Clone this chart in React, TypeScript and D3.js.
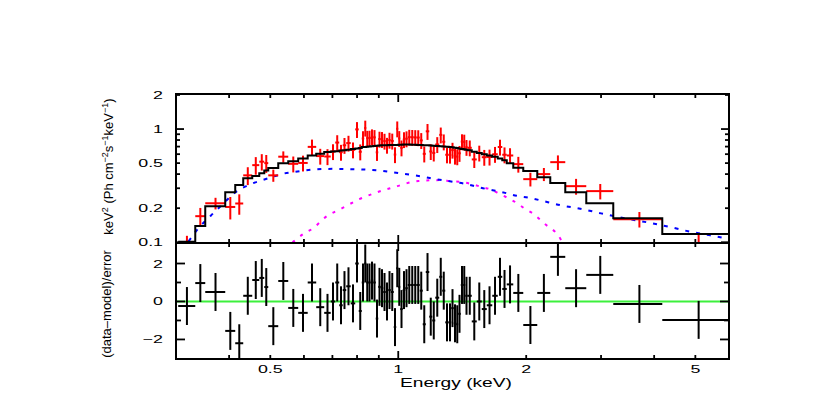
import React from "react";
import * as d3 from "d3";

// Bin edges (keV)
const E_EDGES = [
  0.3036, 0.333, 0.3515, 0.3917, 0.4135, 0.4318, 0.4534, 0.471, 0.4839, 0.4945,
  0.522, 0.551, 0.5816, 0.6123, 0.6412, 0.6696, 0.6936, 0.7107, 0.7263, 0.7402,
  0.7544, 0.773, 0.7921, 0.8073, 0.8206, 0.8318, 0.8409, 0.85, 0.8616, 0.8733,
  0.8852, 0.8973, 0.9095, 0.922, 0.9345, 0.9473, 0.9602, 0.9759, 0.9892, 1.0,
  1.0109, 1.0247, 1.0387, 1.0528, 1.0701, 1.0876, 1.1054, 1.1235, 1.1419, 1.1607,
  1.1829, 1.2023, 1.222, 1.2487, 1.2692, 1.29, 1.3147, 1.3326, 1.3508, 1.3692,
  1.3841, 1.403, 1.4221, 1.4376, 1.4572, 1.4892, 1.5301, 1.5721, 1.6152, 1.6641,
  1.7144, 1.7567, 1.8, 1.8646, 1.9684, 2.1236, 2.2785, 2.4714, 2.7692, 3.2054,
  4.1801, 6.0,
];

// Unfolded data (keV^2 Ph cm^-2 s^-1 keV^-1)
const FLUX = [
  0.097, 0.170, 0.221, 0.205, 0.220, 0.390, 0.480, 0.515, 0.500, 0.390, 0.570,
  0.493, 0.502, 0.696, 0.577, 0.572, 0.633, 0.760, 0.625, 0.719, 0.752, 0.656,
  0.993, 0.630, 0.825, 1.022, 0.831, 0.833, 0.856, 0.844,
  0.623, 0.816, 0.811, 0.783, 0.721, 0.799, 0.785, 0.595, 1.006, 0.827,
  0.683, 0.808, 0.822, 0.848, 0.846, 0.843, 0.841, 0.794, 0.604, 0.955,
  0.634, 0.615, 0.731, 0.889, 0.772, 0.593, 0.589, 0.652, 0.577, 0.570,
  0.611, 0.775, 0.769, 0.690, 0.683, 0.539, 0.615, 0.564, 0.567, 0.599,
  0.694, 0.593, 0.584, 0.490, 0.361, 0.400, 0.510, 0.313, 0.283, 0.160, 0.097,
];

const FLUX_ERR = [
  0.017, 0.031, 0.026, 0.046, 0.045, 0.070, 0.085, 0.085, 0.090, 0.048, 0.065,
  0.079, 0.080, 0.111, 0.092, 0.092, 0.101, 0.122, 0.100, 0.115, 0.120, 0.105,
  0.159, 0.101, 0.132, 0.164, 0.133, 0.133, 0.137, 0.135,
  0.100, 0.131, 0.130, 0.125, 0.115, 0.128, 0.126, 0.095, 0.161, 0.132,
  0.109, 0.129, 0.132, 0.136, 0.135, 0.135, 0.135, 0.127, 0.097, 0.153,
  0.101, 0.098, 0.117, 0.142, 0.124, 0.095, 0.094, 0.104, 0.092, 0.091,
  0.098, 0.124, 0.123, 0.110, 0.109, 0.086, 0.098, 0.090, 0.091, 0.096,
  0.111, 0.095, 0.093, 0.078, 0.050, 0.053, 0.075, 0.050, 0.044, 0.025, 0.022,
];

const MODEL = [
  0.101, 0.139, 0.208, 0.277, 0.320, 0.368, 0.384, 0.408, 0.430, 0.452, 0.500,
  0.520, 0.550, 0.585, 0.605, 0.627, 0.633, 0.638, 0.645, 0.650, 0.656, 0.667,
  0.675, 0.680, 0.693, 0.695, 0.698, 0.700, 0.705, 0.709,
  0.713, 0.716, 0.720, 0.720, 0.721, 0.722, 0.722, 0.723, 0.724, 0.725,
  0.727, 0.730, 0.730, 0.730, 0.728, 0.726, 0.724, 0.722, 0.720, 0.718,
  0.715, 0.713, 0.708, 0.704, 0.702, 0.697, 0.693, 0.689, 0.683, 0.679,
  0.675, 0.667, 0.662, 0.657, 0.650, 0.630, 0.615, 0.600, 0.585, 0.570,
  0.550, 0.530, 0.500, 0.455, 0.425, 0.376, 0.333, 0.277, 0.221, 0.163, 0.118,
];

const RESID = [
  -0.24, 0.97, 0.5, -1.55, -2.2, 0.3, 1.13, 1.24, 0.76, -1.3, 1.08,
  -0.34, -0.6, 1.0, -0.3, -0.6, 0.0, 1.0, -0.2, 0.6, 0.8, -0.1,
  2.0, -0.5, 1.0, 2.0, 1.0, 1.0, 1.1, 1.0,
  -0.9, 0.77, 0.7, 0.5, 0.0, 0.6, 0.5, -1.35, 1.75, 0.77,
  -0.4, 0.6, 0.7, 0.87, 0.87, 0.87, 0.87, 0.57, -1.2, 1.55,
  -0.8, -1.0, 0.2, 1.3, 0.57, -1.1, -1.1, -0.35, -1.15, -1.2,
  -0.65, 0.87, 0.87, 0.3, 0.3, -1.05, 0.0, -0.4, -0.2, 0.3,
  1.3, 0.66, 0.9, 0.45, -1.24, 0.45, 2.35, 0.7, 1.4, -0.13, -0.97,
];

// Model component 1 (blue dashed)
const BLUE_E = [
  0.31, 0.32, 0.337, 0.355, 0.367, 0.39, 0.413, 0.436, 0.458, 0.486,
  0.514, 0.539, 0.573, 0.64, 0.70, 0.76, 0.82, 0.9, 0.97, 1.08,
  1.15, 1.22, 1.36, 1.45, 1.53, 1.62, 1.71, 1.8, 1.9, 2.02,
  2.25, 2.4, 2.68, 3.0, 3.33, 3.96, 4.37, 4.86, 5.42, 6.0,
];
const BLUE_V = [
  0.085, 0.1, 0.13, 0.16, 0.18, 0.225, 0.275, 0.31, 0.335, 0.36,
  0.385, 0.405, 0.42, 0.44, 0.445, 0.443, 0.44, 0.43, 0.415, 0.392,
  0.378, 0.362, 0.34, 0.326, 0.31, 0.294, 0.283, 0.271, 0.257, 0.248,
  0.226, 0.213, 0.198, 0.18, 0.166, 0.147, 0.136, 0.124, 0.115, 0.107,
];

// Model component 2 (magenta dotted)
const MAG_E = [
  0.54, 0.557, 0.601, 0.631, 0.673, 0.738, 0.81, 0.893, 0.995, 1.05,
  1.115, 1.256, 1.326, 1.415, 1.49, 1.576, 1.646, 1.738, 1.815, 1.905,
  1.977, 2.067, 2.218, 2.379, 2.444, 2.5,
];
const MAG_V = [
  0.088, 0.096, 0.12, 0.133, 0.166, 0.2, 0.24, 0.277, 0.313, 0.333,
  0.347, 0.354, 0.347, 0.34, 0.326, 0.307, 0.294, 0.266, 0.245, 0.221,
  0.2, 0.181, 0.144, 0.115, 0.098, 0.088,
];

const X_LABELS = [0.5, 1, 2, 5];
const X_MAJOR = [1];
const X_MINOR = [0.3, 0.4, 0.5, 0.6, 0.7, 0.8, 0.9, 2, 3, 4, 5, 6];
const Y_TOP_LABELS = [0.1, 0.2, 0.5, 1, 2];
const Y_TOP_MAJOR = [0.1, 1];
const Y_TOP_MINOR = [0.2, 0.3, 0.4, 0.5, 0.6, 0.7, 0.8, 0.9, 2];
const Y_RES_LABELS = [-2, 0, 2];
const Y_RES_MINOR = [-1, 1];

const X0 = 176, X1 = 729;
const TOP_Y0 = 94, TOP_Y1 = 243;
const BOT_Y0 = 243, BOT_Y1 = 359;
const FONT = "'Liberation Sans', Arial, Helvetica, sans-serif";
const SX = 1.55;

export default function App() {
  const x = d3.scaleLog().domain([0.3, 6]).range([X0, X1]);
  const yTop = d3.scaleLog().domain([0.0985, 2.04]).range([TOP_Y1, TOP_Y0]);
  const yRes = d3.scaleLinear().domain([-3.03, 3.08]).range([BOT_Y1, BOT_Y0]);

  const bins = FLUX.map((f, i) => ({
    lo: E_EDGES[i],
    hi: E_EDGES[i + 1],
    c: (E_EDGES[i] + E_EDGES[i + 1]) / 2,
    f,
    e: FLUX_ERR[i],
    m: MODEL[i],
    r: RESID[i],
  }));

  const stepPts: [number, number][] = bins.flatMap((b) => [
    [b.lo, b.m] as [number, number],
    [b.hi, b.m] as [number, number],
  ]);
  const stepLine = d3
    .line<[number, number]>()
    .x((d) => x(d[0]))
    .y((d) => yTop(d[1]));
  const smooth = d3
    .line<[number, number]>()
    .x((d) => x(d[0]))
    .y((d) => yTop(d[1]))
    .curve(d3.curveMonotoneX);
  const bluePts = BLUE_E.map((e, i) => [e, BLUE_V[i]] as [number, number]);
  const magPts = MAG_E.map((e, i) => [e, MAG_V[i]] as [number, number]);

  const fmt = (v: number) => (v < 0 ? "\u2212" + Math.abs(v) : String(v));

  const ticks: JSX.Element[] = [];
  const tick = (x1: number, y1: number, x2: number, y2: number, k: string) =>
    ticks.push(<line key={k} x1={x1} y1={y1} x2={x2} y2={y2} stroke="#000" strokeWidth={1.8} />);

  [[TOP_Y0, 1], [TOP_Y1, -1], [BOT_Y0, 1], [BOT_Y1, -1]].forEach(([yy, dir], j) => {
    X_MAJOR.forEach((v) => tick(x(v), yy, x(v), yy + dir * 8, `xM${j}-${v}`));
    X_MINOR.forEach((v) => tick(x(v), yy, x(v), yy + dir * 4, `xm${j}-${v}`));
  });
  [[X0, 1], [X1, -1]].forEach(([xx, dir], j) => {
    Y_TOP_MAJOR.forEach((v) => tick(xx, yTop(v), xx + dir * 8, yTop(v), `yM${j}-${v}`));
    Y_TOP_MINOR.forEach((v) => tick(xx, yTop(v), xx + dir * 4, yTop(v), `ym${j}-${v}`));
    Y_RES_LABELS.forEach((v) => tick(xx, yRes(v), xx + dir * 9, yRes(v), `rM${j}-${v}`));
    Y_RES_MINOR.forEach((v) => tick(xx, yRes(v), xx + dir * 5, yRes(v), `rm${j}-${v}`));
  });

  return (
    <svg
      width={830}
      height={414}
      viewBox="0 0 830 414"
      style={{ position: "absolute", left: 0, top: 0, background: "#fff" }}
      fontFamily={FONT}
    >
      <defs>
        <clipPath id="clipTop">
          <rect x={X0} y={TOP_Y0} width={X1 - X0} height={TOP_Y1 - TOP_Y0} />
        </clipPath>
        <clipPath id="clipBot">
          <rect x={X0} y={BOT_Y0} width={X1 - X0} height={BOT_Y1 - BOT_Y0} />
        </clipPath>
      </defs>
      <rect x={0} y={0} width={830} height={414} fill="#fff" />

      <g clipPath="url(#clipTop)">
        <path d={smooth(magPts) || ""} fill="none" stroke="#ff00ff" strokeWidth={2} strokeDasharray="3 7" />
        <path d={smooth(bluePts) || ""} fill="none" stroke="#0000ff" strokeWidth={2} strokeDasharray="4 7" />
        {bins.map((b, i) => (
          <g key={`d${i}`} stroke="#ff0000" strokeWidth={2}>
            <line x1={x(b.lo)} x2={x(b.hi)} y1={yTop(b.f)} y2={yTop(b.f)} />
            <line x1={x(b.c)} x2={x(b.c)} y1={yTop(b.f - b.e)} y2={yTop(b.f + b.e)} />
          </g>
        ))}
        <path d={stepLine(stepPts) || ""} fill="none" stroke="#000" strokeWidth={2} />
      </g>

      <g clipPath="url(#clipBot)">
        <line x1={X0} x2={X1} y1={yRes(0)} y2={yRes(0)} stroke="#3cf03c" strokeWidth={2} />
        {bins.map((b, i) => (
          <g key={`r${i}`} stroke="#000" strokeWidth={2}>
            <line x1={x(b.lo)} x2={x(b.hi)} y1={yRes(b.r)} y2={yRes(b.r)} />
            <line x1={x(b.c)} x2={x(b.c)} y1={yRes(b.r - 1)} y2={yRes(b.r + 1)} />
          </g>
        ))}
      </g>

      <rect x={X0} y={TOP_Y0} width={X1 - X0} height={TOP_Y1 - TOP_Y0} fill="none" stroke="#000" strokeWidth={2} />
      <rect x={X0} y={BOT_Y0} width={X1 - X0} height={BOT_Y1 - BOT_Y0} fill="none" stroke="#000" strokeWidth={2} />
      {ticks}

      {Y_TOP_LABELS.map((v) => (
        <text
          key={`lt${v}`}
          transform={`translate(163,${yTop(v) + 4}) scale(${SX},1)`}
          textAnchor="end"
          fontSize={11.5}
          fill="#000"
        >
          {String(v)}
        </text>
      ))}
      {Y_RES_LABELS.map((v) => (
        <text
          key={`lr${v}`}
          transform={`translate(163,${yRes(v) + 4}) scale(${SX},1)`}
          textAnchor="end"
          fontSize={11.5}
          fill="#000"
        >
          {fmt(v)}
        </text>
      ))}
      {X_LABELS.map((v) => (
        <text
          key={`lx${v}`}
          transform={`translate(${x(v)},373) scale(${SX},1)`}
          textAnchor="middle"
          fontSize={11.5}
          fill="#000"
        >
          {String(v)}
        </text>
      ))}

      <text transform={`translate(456,387) scale(1.6,1)`} textAnchor="middle" fontSize={12} fill="#000">
        Energy (keV)
      </text>
      <text transform="translate(113,166.5) rotate(-90)" textAnchor="middle" fontSize={13} fill="#000">
        keV<tspan dy={-5} fontSize={9}>2</tspan>
        <tspan dy={5}> (Ph cm</tspan>
        <tspan dy={-5} fontSize={9}>{"\u22122"}</tspan>
        <tspan dy={5}>s</tspan>
        <tspan dy={-5} fontSize={9}>{"\u22121"}</tspan>
        <tspan dy={5}>keV</tspan>
        <tspan dy={-5} fontSize={9}>{"\u22121"}</tspan>
        <tspan dy={5}>)</tspan>
      </text>
      <text transform="translate(111,304) rotate(-90)" textAnchor="middle" fontSize={13} fill="#000">
        (data{"\u2013"}model)/error
      </text>
    </svg>
  );
}
